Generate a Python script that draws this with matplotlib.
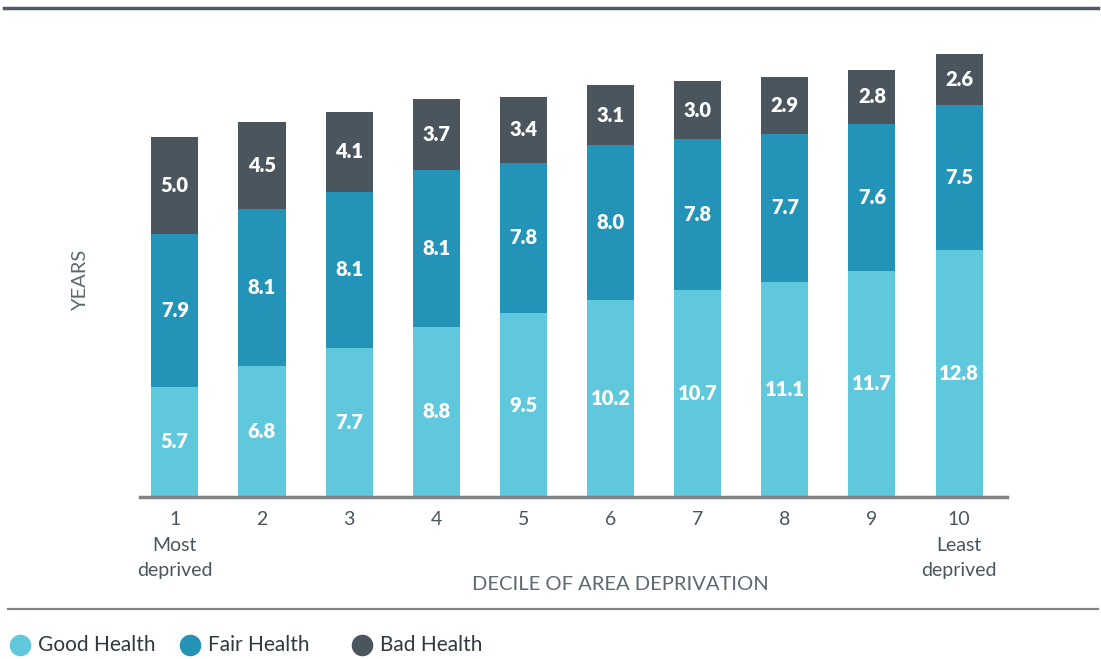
import matplotlib.pyplot as plt
from matplotlib.lines import Line2D
import numpy as np

deciles = ["1", "2", "3", "4", "5", "6", "7", "8", "9", "10"]
good = [5.7, 6.8, 7.7, 8.8, 9.5, 10.2, 10.7, 11.1, 11.7, 12.8]
fair = [7.9, 8.1, 8.1, 8.1, 7.8, 8.0, 7.8, 7.7, 7.6, 7.5]
bad = [5.0, 4.5, 4.1, 3.7, 3.4, 3.1, 3.0, 2.9, 2.8, 2.6]
series_names = ["Good Health", "Fair Health", "Bad Health"]

colors = ["#5fc8dc", "#2394b8", "#4a555e"]
text_col = "#4a555e"
plt.rcParams['font.family'] = ['Lato', 'DejaVu Sans']

W, H = 1101, 659
fig = plt.figure(figsize=(W / 100, H / 100), dpi=100)

# axes placed in pixel terms
left, right, base, top = 140, 1007, 497, 33
ax = fig.add_axes([left / W, (H - base) / H, (right - left) / W, (base - top) / H])

x = np.arange(1, 11)
w = 0.54
bottoms = np.zeros(len(x))
for vals, c in zip([good, fair, bad], colors):
    vals = np.array(vals)
    ax.bar(x, vals, w, bottom=bottoms, color=c, linewidth=0)
    for xi, b, v in zip(x, bottoms, vals):
        ax.text(xi, b + v / 2, f"{v:.1f}", ha="center", va="center",
                color="white", fontsize=14.5, fontweight="heavy")
    bottoms = bottoms + vals

ax.set_xlim(0.6, 10.55)
ax.set_ylim(0, 24)
ax.set_yticks([])
for s in ["top", "right", "left"]:
    ax.spines[s].set_visible(False)
ax.spines["bottom"].set_color("#808285")
ax.spines["bottom"].set_linewidth(2.5)

ticklabels = list(deciles)
ticklabels[0] = "1\nMost\ndeprived"
ticklabels[-1] = "10\nLeast\ndeprived"
ax.set_xticks(x)
ax.set_xticklabels(ticklabels, fontsize=14, color=text_col, linespacing=1.62)
ax.tick_params(axis="x", length=0, pad=10)

fig.text(620 / W, 1 - 584 / H, "DECILE OF AREA DEPRIVATION", ha="center", va="center",
         fontsize=14.5, color="#5d6870")
fig.text(81 / W, 1 - 280 / H, "YEARS", ha="center", va="center", rotation=90,
         fontsize=14.5, color="#5d6870")

# rules
fig.add_artist(Line2D([4 / W, 1098 / W], [1 - 8 / H, 1 - 8 / H], color="#4d5a63", lw=2.5))
fig.add_artist(Line2D([8 / W, 1098 / W], [1 - 609 / H, 1 - 609 / H], color="#808488", lw=1.6))

# legend
leg_x = [20, 190, 362]
for lx, name, c in zip(leg_x, series_names, colors):
    fig.add_artist(Line2D([lx / W], [1 - 645 / H], marker="o", markersize=14.5,
                          color=c, linestyle="none"))
    fig.text((lx + 18) / W, 1 - 645 / H, name, ha="left", va="center",
             fontsize=15, color="#2f3a40")

fig.savefig("out.png", dpi=100)
